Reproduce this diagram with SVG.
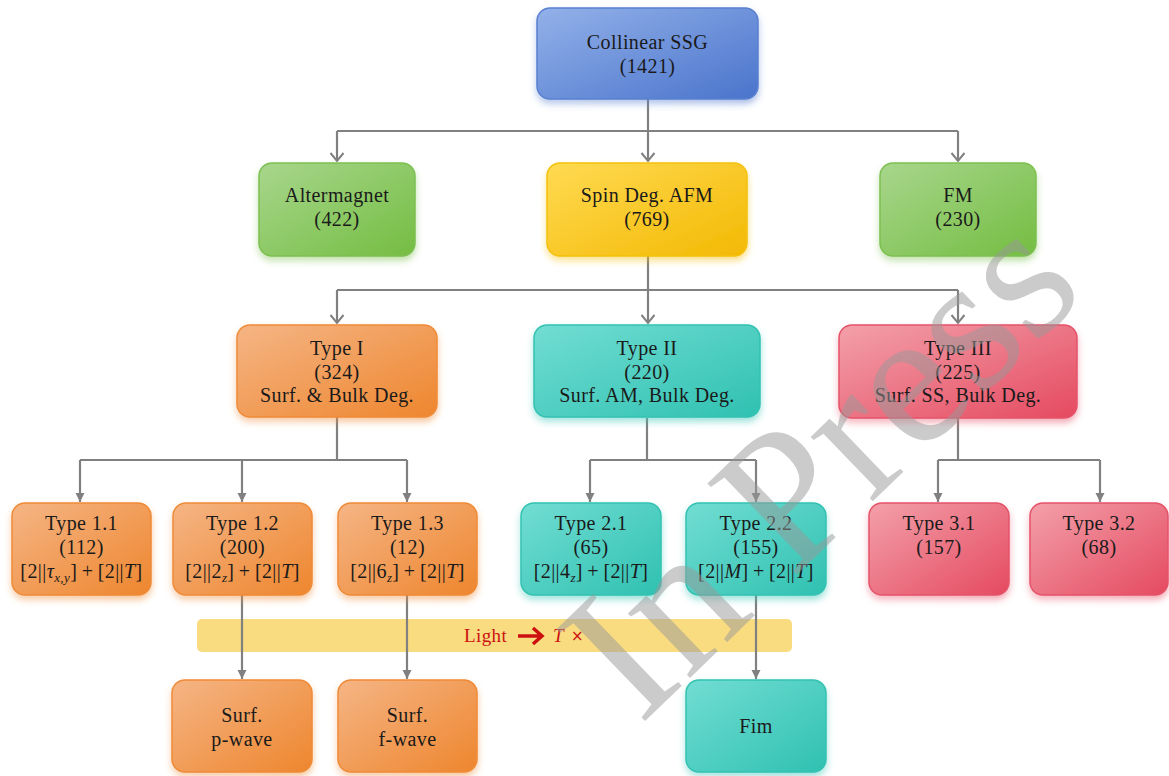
<svg xmlns="http://www.w3.org/2000/svg" width="1169" height="776" viewBox="0 0 1169 776">
<defs>
<style>
.n text{font-family:"Liberation Serif","Times New Roman",serif;font-size:20px;fill:#1a1a1a;text-anchor:middle;letter-spacing:0.4px}
.box{stroke-width:1.5}
.it{font-style:italic}
.sub{font-style:italic;font-size:13px}
.c path{fill:none;stroke:#808080;stroke-width:2.2}
.blue{fill:url(#gBlue);stroke:#5a80d0}
.green{fill:url(#gGreen);stroke:#7dc050}
.yellow{fill:url(#gYellow);stroke:#f4c10a}
.orange{fill:url(#gOrange);stroke:#ef8b37}
.teal{fill:url(#gTeal);stroke:#33c2b2}
.red{fill:url(#gRed);stroke:#e5536b}
</style>
<linearGradient id="gBlue" x1="0" y1="0" x2="1" y2="1"><stop offset="0" stop-color="#93b1e9"/><stop offset="1" stop-color="#4a74cc"/></linearGradient>
<linearGradient id="gGreen" x1="0" y1="0" x2="1" y2="1"><stop offset="0" stop-color="#a8d68c"/><stop offset="1" stop-color="#74bd42"/></linearGradient>
<linearGradient id="gYellow" x1="0" y1="0" x2="1" y2="1"><stop offset="0" stop-color="#ffda52"/><stop offset="1" stop-color="#f3b903"/></linearGradient>
<linearGradient id="gOrange" x1="0" y1="0" x2="1" y2="1"><stop offset="0" stop-color="#f5b585"/><stop offset="1" stop-color="#ee862e"/></linearGradient>
<linearGradient id="gTeal" x1="0" y1="0" x2="1" y2="1"><stop offset="0" stop-color="#72ddd3"/><stop offset="1" stop-color="#2fc1b1"/></linearGradient>
<linearGradient id="gRed" x1="0" y1="0" x2="1" y2="1"><stop offset="0" stop-color="#f3a0aa"/><stop offset="1" stop-color="#e54a60"/></linearGradient>
<filter id="sh" x="-20%" y="-20%" width="140%" height="160%">
<feGaussianBlur in="SourceGraphic" stdDeviation="3.5"/>
<feOffset dy="4" result="b"/>
<feComponentTransfer in="b" result="c"><feFuncA type="linear" slope="0.5"/></feComponentTransfer>
<feMerge><feMergeNode in="c"/><feMergeNode in="SourceGraphic"/></feMerge>
</filter>
<marker id="av" viewBox="-10 -8 12 16" markerWidth="12" markerHeight="16" refX="0" refY="0" orient="auto" markerUnits="userSpaceOnUse">
<path d="M-8,-6.5 L0,0 L-8,6.5" fill="none" stroke="#808080" stroke-width="2"/>
</marker>
<marker id="af" viewBox="-10 -6 11 12" markerWidth="11" markerHeight="12" refX="0" refY="0" orient="auto" markerUnits="userSpaceOnUse">
<path d="M-9,-4.5 L0,0 L-9,4.5 Z" fill="#808080"/>
</marker>
</defs>
<rect width="1169" height="776" fill="#ffffff"/>

<g id="banner">
<rect x="197" y="619" width="595" height="33" rx="5" fill="#f9dc80"/>
<text x="464" y="642" font-family="'Liberation Serif',serif" font-size="19" letter-spacing="0.4" fill="#cc1010">Light</text>
<path d="M518,636 H541 M533,628 L542,636 L533,644" fill="none" stroke="#cc1010" stroke-width="3.5" stroke-linejoin="miter"/>
<text x="553" y="642" font-family="'Liberation Serif',serif" font-size="19" font-style="italic" fill="#cc1010">T</text>
<text x="571" y="641" font-family="'DejaVu Sans',sans-serif" font-size="15" fill="#cc1010">×</text>
</g>

<g id="connectors" class="c">
<path d="M648,99 V131"/>
<path d="M337,131 H958"/>
<path d="M337,131 V161" marker-end="url(#av)"/>
<path d="M648,131 V161" marker-end="url(#av)"/>
<path d="M958,131 V161" marker-end="url(#av)"/>
<path d="M648,256 V290"/>
<path d="M337,290 H958"/>
<path d="M337,290 V323" marker-end="url(#av)"/>
<path d="M648,290 V323" marker-end="url(#av)"/>
<path d="M958,290 V323" marker-end="url(#av)"/>
<path d="M337,417 V460 M80,460 H407"/>
<path d="M80,460 V502" marker-end="url(#af)"/>
<path d="M242,460 V502" marker-end="url(#af)"/>
<path d="M407,460 V502" marker-end="url(#af)"/>
<path d="M647,418 V460 M590,460 H756"/>
<path d="M590,460 V502" marker-end="url(#af)"/>
<path d="M756,460 V502" marker-end="url(#af)"/>
<path d="M958,418 V460 M938,460 H1100"/>
<path d="M938,460 V502" marker-end="url(#af)"/>
<path d="M1100,460 V502" marker-end="url(#af)"/>
<path d="M242,595 V679" marker-end="url(#af)"/>
<path d="M407,595 V679" marker-end="url(#af)"/>
<path d="M756,595 V679" marker-end="url(#af)"/>
</g>

<g id="n-root" class="n"><rect class="box blue" x="537" y="8" width="221" height="91" rx="13" filter="url(#sh)"/><text x="647.5" y="49">Collinear SSG</text><text x="647.5" y="73">(1421)</text></g>

<g id="n-alter" class="n"><rect class="box green" x="259" y="163" width="156" height="93" rx="13" filter="url(#sh)"/><text x="337" y="202">Altermagnet</text><text x="337" y="226">(422)</text></g>
<g id="n-spin" class="n"><rect class="box yellow" x="547" y="163" width="200" height="93" rx="13" filter="url(#sh)"/><text x="647" y="202">Spin Deg. AFM</text><text x="647" y="226">(769)</text></g>
<g id="n-fm" class="n"><rect class="box green" x="880" y="163" width="156" height="93" rx="13" filter="url(#sh)"/><text x="958" y="202">FM</text><text x="958" y="226">(230)</text></g>

<g id="n-t1" class="n"><rect class="box orange" x="237" y="325" width="200" height="92" rx="13" filter="url(#sh)"/><text x="337" y="355">Type I</text><text x="337" y="379">(324)</text><text x="337" y="402">Surf. &amp; Bulk Deg.</text></g>
<g id="n-t2" class="n"><rect class="box teal" x="534" y="325" width="226" height="92" rx="13" filter="url(#sh)"/><text x="647" y="355">Type II</text><text x="647" y="379">(220)</text><text x="647" y="402">Surf. AM, Bulk Deg.</text></g>
<g id="n-t3" class="n"><rect class="box red" x="839" y="325" width="238" height="93" rx="13" filter="url(#sh)"/><text x="958" y="355">Type III</text><text x="958" y="379">(225)</text><text x="958" y="402">Surf. SS, Bulk Deg.</text></g>

<g id="n-t11" class="n"><rect class="box orange" x="12" y="503" width="139" height="92" rx="13" filter="url(#sh)"/><text x="81.5" y="530">Type 1.1</text><text x="81.5" y="554">(112)</text><text x="81.5" y="578">[2||<tspan class="it">τ</tspan><tspan class="sub" dy="4">x,y</tspan><tspan dy="-4">]&#8201;+&#8201;[2||</tspan><tspan class="it">T</tspan>]</text></g>
<g id="n-t12" class="n"><rect class="box orange" x="173" y="503" width="139" height="92" rx="13" filter="url(#sh)"/><text x="242.5" y="530">Type 1.2</text><text x="242.5" y="554">(200)</text><text x="242.5" y="578">[2||2<tspan class="sub" dy="4">z</tspan><tspan dy="-4">]&#8201;+&#8201;[2||</tspan><tspan class="it">T</tspan>]</text></g>
<g id="n-t13" class="n"><rect class="box orange" x="338" y="503" width="139" height="92" rx="13" filter="url(#sh)"/><text x="407.5" y="530">Type 1.3</text><text x="407.5" y="554">(12)</text><text x="407.5" y="578">[2||6<tspan class="sub" dy="4">z</tspan><tspan dy="-4">]&#8201;+&#8201;[2||</tspan><tspan class="it">T</tspan>]</text></g>
<g id="n-t21" class="n"><rect class="box teal" x="521" y="503" width="140" height="92" rx="13" filter="url(#sh)"/><text x="591" y="530">Type 2.1</text><text x="591" y="554">(65)</text><text x="591" y="578">[2||4<tspan class="sub" dy="4">z</tspan><tspan dy="-4">]&#8201;+&#8201;[2||</tspan><tspan class="it">T</tspan>]</text></g>
<g id="n-t22" class="n"><rect class="box teal" x="686" y="503" width="140" height="92" rx="13" filter="url(#sh)"/><text x="756" y="530">Type 2.2</text><text x="756" y="554">(155)</text><text x="756" y="578">[2||<tspan class="it">M</tspan>]&#8201;+&#8201;[2||<tspan class="it">T</tspan>]</text></g>
<g id="n-t31" class="n"><rect class="box red" x="869" y="503" width="140" height="92" rx="13" filter="url(#sh)"/><text x="939" y="530">Type 3.1</text><text x="939" y="554">(157)</text></g>
<g id="n-t32" class="n"><rect class="box red" x="1030" y="503" width="138" height="92" rx="13" filter="url(#sh)"/><text x="1099" y="530">Type 3.2</text><text x="1099" y="554">(68)</text></g>

<g id="n-pwave" class="n"><rect class="box orange" x="172" y="680" width="140" height="92" rx="13" filter="url(#sh)"/><text x="242" y="722">Surf.</text><text x="242" y="746">p-wave</text></g>
<g id="n-fwave" class="n"><rect class="box orange" x="338" y="680" width="139" height="92" rx="13" filter="url(#sh)"/><text x="407.5" y="722">Surf.</text><text x="407.5" y="746">f-wave</text></g>
<g id="n-fim" class="n"><rect class="box teal" x="686" y="680" width="140" height="92" rx="13" filter="url(#sh)"/><text x="756" y="733">Fim</text></g>

<text id="watermark" x="640" y="726" transform="rotate(-44 640 726)" font-family="'Liberation Serif',serif" font-size="195" fill="#999999" opacity="0.5">In Press</text>
</svg>
